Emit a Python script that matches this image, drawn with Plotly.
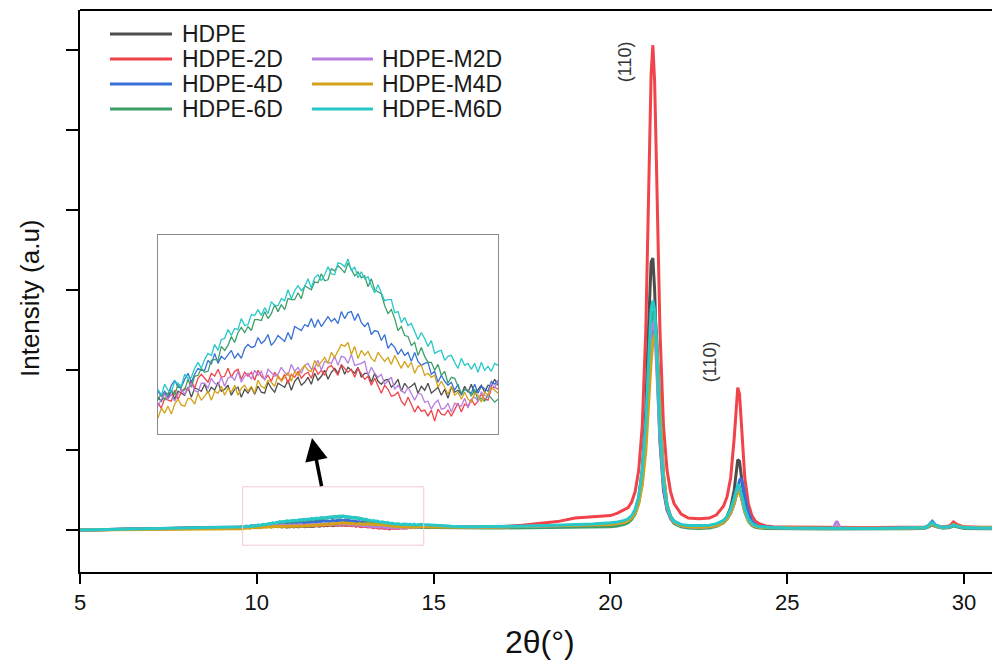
import plotly.graph_objects as go

# ---------------- x grid (2theta, degrees) ----------------
X_LEFT = [5.0, 5.5, 6.0, 6.5, 7.0, 7.5, 8.0, 8.5, 9.0, 9.5]
X_HUMP = [9.6, 9.65, 9.7, 9.75, 9.8, 9.85, 9.9, 9.95, 10.0, 10.05,
          10.1, 10.15, 10.2, 10.25, 10.3, 10.35, 10.4, 10.45, 10.5, 10.55,
          10.6, 10.65, 10.7, 10.75, 10.8, 10.85, 10.9, 10.95, 11.0, 11.05,
          11.1, 11.15, 11.2, 11.25, 11.3, 11.35, 11.4, 11.45, 11.5, 11.55,
          11.6, 11.65, 11.7, 11.75, 11.8, 11.85, 11.9, 11.95, 12.0, 12.05,
          12.1, 12.15, 12.2, 12.25, 12.3, 12.35, 12.4, 12.45, 12.5, 12.55,
          12.6, 12.65, 12.7, 12.75, 12.8, 12.85, 12.9, 12.95, 13.0, 13.05,
          13.1, 13.15, 13.2, 13.25, 13.3, 13.35, 13.4, 13.45, 13.5, 13.55,
          13.6, 13.65, 13.7, 13.75, 13.8, 13.85, 13.9, 13.95, 14.0, 14.05,
          14.1, 14.15, 14.2, 14.25, 14.3, 14.35, 14.4, 14.45, 14.5, 14.55,
          14.6, 14.65, 14.7]
X_MID = [15.0, 15.5, 16.0, 16.5, 17.0, 17.5, 18.0, 18.5, 19.0, 19.5]
X_PEAKS = [20.0, 20.2, 20.4, 20.5, 20.6, 20.7, 20.8, 20.9, 21.0, 21.05,
           21.1, 21.15, 21.2, 21.25, 21.3, 21.35, 21.4, 21.5, 21.6, 21.7,
           21.8, 22.0, 22.2, 22.5, 22.8, 23.0, 23.2, 23.3, 23.4, 23.5,
           23.55, 23.6, 23.65, 23.7, 23.75, 23.8, 23.9, 24.0, 24.1, 24.2,
           24.4, 24.6]
X_TAIL = [25.0, 25.5, 26.0, 26.3, 26.4, 26.5, 27.0, 27.5, 28.0, 28.5,
          28.9, 29.0, 29.1, 29.2, 29.4, 29.6, 29.7, 29.8, 30.0, 30.5, 31.0]

# ---------------- HDPE ----------------
hdpe_left = [0, 3, 6, 10, 14, 18, 23, 27, 31, 35]
hdpe_hump = [37, 33, 41, 36, 44, 35, 43, 41, 39, 47,
             37, 46, 45, 43, 50, 41, 47, 44, 52, 43,
             45, 49, 39, 45, 47, 37, 45, 41, 47, 40,
             48, 42, 41, 52, 46, 42, 51, 49, 47, 54,
             44, 53, 57, 49, 52, 57, 50, 61, 54, 58,
             64, 55, 62, 66, 61, 69, 60, 67, 64, 61,
             67, 57, 61, 61, 52, 61, 53, 50, 54, 55,
             47, 50, 55, 43, 51, 46, 48, 51, 41, 48,
             44, 51, 41, 44, 47, 39, 45, 36, 47, 42,
             44, 40, 48, 42, 50, 40, 45, 49, 42, 49,
             48, 55, 49]
hdpe_mid = [45, 38, 35, 35, 38, 40, 45, 50, 55, 58]
hdpe_peaks = [60, 70, 90, 110, 150, 230, 400, 750, 1500, 2200,
              2900, 3350, 3400, 3000, 2300, 1600, 1100, 500, 250, 150,
              100, 60, 40, 35, 40, 60, 110, 170, 280, 500,
              700, 880, 860, 700, 480, 320, 150, 80, 50, 40,
              30, 25]
hdpe_tail = [25, 22, 20, 20, 20, 20, 20, 20, 22, 24, 30, 50, 85, 55, 32, 40, 65, 50, 32, 26, 24]

# ---------------- HDPE-2D ----------------
d2_left = [0, 2, 5, 8, 12, 15, 19, 23, 26, 29]
d2_hump = [31, 26, 36, 34, 33, 44, 35, 42, 46, 44,
           54, 46, 56, 60, 56, 52, 61, 58, 65, 57,
           58, 66, 57, 63, 65, 55, 62, 58, 62, 54,
           64, 58, 55, 59, 53, 62, 57, 54, 60, 51,
           60, 57, 63, 56, 60, 62, 56, 67, 60, 64,
           59, 67, 69, 64, 59, 70, 66, 62, 65, 57,
           66, 60, 55, 58, 49, 56, 48, 41, 49, 45,
           38, 39, 42, 33, 29, 37, 30, 22, 28, 23,
           24, 18, 24, 13, 25, 20, 19, 24, 18, 25,
           31, 22, 30, 28, 35, 29, 33, 40, 35, 34,
           46, 47, 45]
d2_mid = [42, 38, 37, 40, 45, 60, 85, 105, 150, 165]
d2_peaks = [180, 210, 250, 280, 350, 480, 750, 1300, 2500, 3500,
            4700, 5700, 6060, 5600, 4600, 3500, 2500, 1300, 750, 480,
            330, 200, 150, 140, 150, 190, 300, 420, 650, 1150,
            1500, 1780, 1700, 1350, 950, 650, 330, 180, 110, 80,
            50, 40]
d2_tail = [38, 34, 32, 32, 32, 32, 31, 31, 32, 34, 38, 45, 60, 45, 38, 55, 100, 70, 40, 34, 32]

# ---------------- HDPE-4D ----------------
d4_left = [0, 3, 7, 11, 16, 21, 26, 31, 36, 40]
d4_hump = [43, 38, 43, 39, 49, 54, 47, 47, 55, 61,
           52, 60, 66, 64, 64, 74, 70, 81, 71, 78,
           75, 80, 84, 76, 81, 76, 86, 90, 87, 88,
           97, 91, 94, 100, 89, 93, 99, 96, 93, 102,
           95, 108, 106, 104, 110, 108, 116, 107, 115, 108,
           113, 118, 113, 116, 111, 123, 116, 122, 123, 114,
           121, 112, 108, 112, 100, 104, 103, 94, 100, 86,
           91, 87, 80, 85, 79, 82, 73, 82, 73, 69,
           71, 72, 60, 63, 52, 59, 53, 49, 52, 44,
           50, 39, 45, 43, 41, 50, 41, 48, 45, 43,
           53, 50, 54]
d4_mid = [50, 42, 38, 38, 40, 43, 48, 52, 58, 64]
d4_peaks = [70, 80, 100, 120, 160, 230, 380, 650, 1150, 1550,
            1950, 2300, 2500, 2560, 2450, 2000, 1450, 700, 320, 170,
            110, 60, 45, 40, 45, 60, 100, 140, 210, 330,
            420, 530, 620, 650, 560, 420, 220, 110, 65, 45,
            35, 30]
d4_tail = [25, 22, 20, 20, 20, 20, 20, 20, 22, 24, 32, 60, 110, 60, 32, 42, 65, 48, 30, 25, 23]

# ---------------- HDPE-6D ----------------
d6_left = [0, 2, 5, 9, 13, 17, 21, 25, 29, 33]
d6_hump = [34, 41, 34, 41, 44, 39, 50, 44, 44, 55,
           47, 58, 59, 66, 62, 63, 74, 75, 74, 88,
           84, 89, 98, 92, 102, 107, 102, 108, 104, 115,
           115, 114, 123, 116, 121, 130, 123, 130, 125, 136,
           135, 135, 142, 136, 149, 147, 145, 153, 152, 161,
           154, 155, 166, 164, 169, 166, 162, 172, 166, 159,
           163, 157, 159, 148, 156, 145, 143, 141, 129, 121,
           125, 116, 104, 108, 99, 98, 89, 92, 79, 87,
           78, 72, 72, 64, 70, 59, 63, 51, 57, 56,
           48, 41, 45, 44, 38, 45, 34, 36, 33, 40,
           36, 32, 35]
d6_mid = [32, 28, 25, 25, 26, 28, 30, 33, 36, 38]
d6_peaks = [40, 50, 70, 90, 130, 200, 340, 600, 1100, 1550,
            2050, 2500, 2720, 2750, 2450, 1900, 1350, 600, 280, 140,
            80, 40, 25, 20, 25, 45, 90, 140, 220, 360,
            450, 500, 490, 420, 320, 220, 110, 55, 35, 25,
            20, 18]
d6_tail = [15, 13, 12, 12, 12, 12, 12, 12, 13, 15, 22, 40, 70, 42, 22, 30, 50, 38, 20, 15, 14]

# ---------------- HDPE-M2D ----------------
m2_left = [0, 2, 5, 8, 11, 14, 17, 21, 25, 29]
m2_hump = [28, 35, 40, 35, 40, 33, 40, 45, 40, 45,
           51, 44, 42, 51, 51, 46, 56, 51, 49, 57,
           48, 56, 58, 54, 63, 52, 58, 61, 55, 64,
           59, 63, 54, 65, 62, 58, 60, 67, 62, 59,
           70, 63, 67, 61, 69, 71, 65, 67, 74, 64,
           73, 72, 71, 78, 69, 78, 77, 71, 80, 69,
           70, 71, 73, 59, 67, 61, 57, 60, 50, 54,
           57, 45, 49, 44, 41, 47, 41, 34, 41, 40,
           32, 33, 25, 31, 34, 25, 26, 31, 22, 31,
           29, 28, 36, 26, 35, 37, 33, 42, 39, 37,
           51, 46, 54]
m2_mid = [48, 40, 36, 36, 38, 42, 46, 52, 58, 64]
m2_peaks = [70, 80, 100, 120, 160, 240, 400, 700, 1250, 1700,
            2150, 2480, 2600, 2500, 2100, 1600, 1150, 550, 270, 150,
            95, 55, 40, 35, 40, 55, 95, 140, 215, 340,
            430, 500, 500, 430, 330, 240, 125, 65, 45, 35,
            30, 28]
m2_tail = [25, 22, 20, 22, 110, 22, 20, 20, 22, 24, 30, 48, 80, 50, 30, 40, 65, 48, 30, 26, 24]

# ---------------- HDPE-M4D ----------------
m4_left = [0, 1, 3, 5, 7, 9, 11, 13, 15, 17]
m4_hump = [16, 26, 21, 28, 20, 30, 35, 29, 28, 36,
           35, 30, 41, 34, 38, 43, 34, 43, 41, 48,
           39, 46, 42, 49, 39, 46, 49, 43, 48, 41,
           54, 48, 46, 54, 52, 48, 59, 53, 57, 62,
           53, 63, 59, 65, 69, 64, 63, 74, 68, 72,
           77, 71, 82, 77, 83, 90, 88, 92, 80, 88,
           76, 84, 79, 83, 76, 73, 82, 77, 73, 77,
           70, 79, 73, 66, 73, 67, 72, 61, 68, 69,
           59, 61, 57, 59, 47, 53, 47, 40, 48, 39,
           42, 35, 42, 35, 32, 41, 39, 32, 42, 39,
           47, 44, 41]
m4_mid = [38, 35, 34, 35, 38, 42, 46, 52, 58, 64]
m4_peaks = [70, 80, 95, 115, 150, 210, 330, 560, 980, 1350,
            1750, 2100, 2350, 2450, 2350, 1950, 1450, 700, 320, 170,
            100, 55, 40, 35, 40, 55, 95, 140, 210, 330,
            420, 470, 470, 410, 320, 230, 120, 65, 45, 35,
            30, 28]
m4_tail = [28, 25, 22, 22, 22, 22, 22, 22, 24, 26, 32, 48, 75, 50, 32, 42, 70, 52, 34, 28, 26]

# ---------------- HDPE-M6D ----------------
m6_left = [0, 4, 8, 13, 18, 23, 28, 33, 38, 43]
m6_hump = [45, 39, 50, 44, 42, 53, 51, 48, 60, 56,
           57, 66, 72, 66, 75, 81, 79, 90, 84, 95,
           96, 105, 99, 106, 105, 116, 109, 110, 120, 119,
           125, 119, 127, 121, 133, 129, 129, 136, 134, 145,
           136, 144, 149, 144, 148, 156, 147, 157, 160, 154,
           160, 168, 161, 160, 172, 171, 168, 176, 164, 168,
           157, 163, 156, 158, 149, 142, 150, 141, 134, 135,
           135, 122, 123, 112, 117, 109, 111, 103, 95, 102,
           96, 88, 94, 81, 83, 84, 74, 78, 79, 72,
           66, 76, 69, 71, 65, 71, 62, 72, 64, 68,
           63, 71, 69]
m6_mid = [60, 48, 42, 42, 44, 47, 52, 58, 65, 75]
m6_peaks = [90, 100, 120, 140, 180, 260, 420, 750, 1350, 1850,
            2350, 2750, 2870, 2750, 2300, 1750, 1250, 600, 300, 170,
            110, 70, 55, 55, 60, 80, 120, 170, 260, 400,
            500, 560, 550, 470, 360, 260, 140, 80, 55, 45,
            35, 30]
m6_tail = [25, 22, 20, 20, 20, 20, 20, 20, 22, 25, 32, 55, 95, 58, 32, 42, 65, 48, 30, 25, 24]

NAMES = ["HDPE", "HDPE-2D", "HDPE-4D", "HDPE-6D", "HDPE-M2D", "HDPE-M4D", "HDPE-M6D"]
COLORS = ["#4d4d4d", "#f0434a", "#3670d6", "#3e9e68", "#b77fe0", "#d4a21a", "#27c8c8"]
SEGMENTS = [
    (hdpe_left, hdpe_hump, hdpe_mid, hdpe_peaks, hdpe_tail),
    (d2_left, d2_hump, d2_mid, d2_peaks, d2_tail),
    (d4_left, d4_hump, d4_mid, d4_peaks, d4_tail),
    (d6_left, d6_hump, d6_mid, d6_peaks, d6_tail),
    (m2_left, m2_hump, m2_mid, m2_peaks, m2_tail),
    (m4_left, m4_hump, m4_mid, m4_peaks, m4_tail),
    (m6_left, m6_hump, m6_mid, m6_peaks, m6_tail),
]
X_ALL = X_LEFT + X_HUMP + X_MID + X_PEAKS + X_TAIL

fig = go.Figure()
for name, color, seg in zip(NAMES, COLORS, SEGMENTS):
    y_all = seg[0] + seg[1] + seg[2] + seg[3] + seg[4]
    fig.add_trace(go.Scatter(x=X_ALL, y=y_all, mode="lines", name=name,
                             line=dict(color=color, width=3), showlegend=False,
                             xaxis="x", yaxis="y"))
for name, color, seg in zip(NAMES, COLORS, SEGMENTS):
    fig.add_trace(go.Scatter(x=X_HUMP, y=seg[1], mode="lines", name=name,
                             line=dict(color=color, width=1.3), showlegend=False,
                             xaxis="x2", yaxis="y2"))

# geometry helpers (pixel -> paper)
L, R, T, B = 80, 0, 10, 89
W, H = 992, 661
PW, PH = W - L - R, H - T - B
def px(xp):
    return (xp - L) / PW
def py(yp):
    return (H - B - yp) / PH

NARROW = "Liberation Sans Narrow, Arial Narrow, Liberation Sans, Arial"
REG = "Liberation Sans, Arial, Helvetica"

fig.update_layout(
    width=W, height=H,
    margin=dict(l=L, r=R, t=T, b=B),
    paper_bgcolor="white", plot_bgcolor="white",
    xaxis=dict(range=[5, 30.79], tickvals=[5, 10, 15, 20, 25, 30],
               showline=True, linecolor="black", linewidth=2, ticks="outside",
               ticklen=10, tickwidth=2, tickcolor="black", showgrid=False, zeroline=False,
               tickfont=dict(family=NARROW, size=22, color="#111")),
    yaxis=dict(range=[-525, 6500], tickvals=[0, 1000, 2000, 3000, 4000, 5000, 6000],
               showline=True, linecolor="black", linewidth=2, ticks="outside",
               ticklen=12, tickwidth=2, tickcolor="black", showgrid=False, zeroline=False,
               showticklabels=False),
    xaxis2=dict(domain=[px(158), px(498)], anchor="y2", range=[9.6, 14.7],
                showline=True, mirror=True, linecolor="#8a8a8a", linewidth=1,
                showticklabels=False, ticks="", showgrid=False, zeroline=False),
    yaxis2=dict(domain=[py(434), py(235)], anchor="x2", range=[0, 200],
                showline=True, mirror=True, linecolor="#8a8a8a", linewidth=1,
                showticklabels=False, ticks="", showgrid=False, zeroline=False),
    showlegend=False,
)

shapes = [
    dict(type="line", xref="paper", yref="paper", x0=0, x1=1, y0=1, y1=1,
         line=dict(color="black", width=2)),
    dict(type="rect", xref="x", yref="y", x0=9.6, x1=14.72, y0=-190, y1=540,
         line=dict(color="#f5c9d0", width=1)),
]
annotations = []

# manual two-column legend
rows = [34, 59, 84, 109]
legend_pos = [(0, 0), (0, 1), (0, 2), (0, 3), (1, 1), (1, 2), (1, 3)]
cols = [(110, 172, 180), (312, 373, 380)]
for name, color, (c, r) in zip(NAMES, COLORS, legend_pos):
    x0, x1, xt = cols[c]
    yy = py(rows[r])
    shapes.append(dict(type="line", xref="paper", yref="paper", x0=px(x0), x1=px(x1),
                       y0=yy, y1=yy, line=dict(color=color, width=3)))
    annotations.append(dict(text=name, xref="paper", yref="paper", x=px(xt), y=yy,
                            xanchor="left", yanchor="middle", showarrow=False,
                            font=dict(family=REG, size=23, color="#1a1a1a")))

# peak labels
annotations.append(dict(text="(110)", x=20.41, y=5860, xref="x", yref="y", showarrow=False,
                        textangle=-90, font=dict(family=NARROW, size=18, color="#333")))
annotations.append(dict(text="(110)", x=22.82, y=2100, xref="x", yref="y", showarrow=False,
                        textangle=-90, font=dict(family=NARROW, size=18, color="#333")))
# arrow from highlighted region to inset
annotations.append(dict(x=11.56, y=1150, ax=11.84, ay=530, xref="x", yref="y",
                        axref="x", ayref="y", text="", showarrow=True,
                        arrowhead=2, arrowsize=1.3, arrowwidth=3.5, arrowcolor="black"))
# axis titles
annotations.append(dict(text="Intensity (a.u)", xref="paper", yref="paper", x=px(30), y=py(298),
                        textangle=-90, showarrow=False, xanchor="center", yanchor="middle",
                        font=dict(family=NARROW, size=26, color="#111")))
annotations.append(dict(text="2θ(°)", xref="paper", yref="paper", x=px(540), y=py(642),
                        showarrow=False, xanchor="center", yanchor="middle",
                        font=dict(family=NARROW, size=32, color="#111")))

fig.update_layout(shapes=shapes, annotations=annotations)
fig.write_html("out.html")
